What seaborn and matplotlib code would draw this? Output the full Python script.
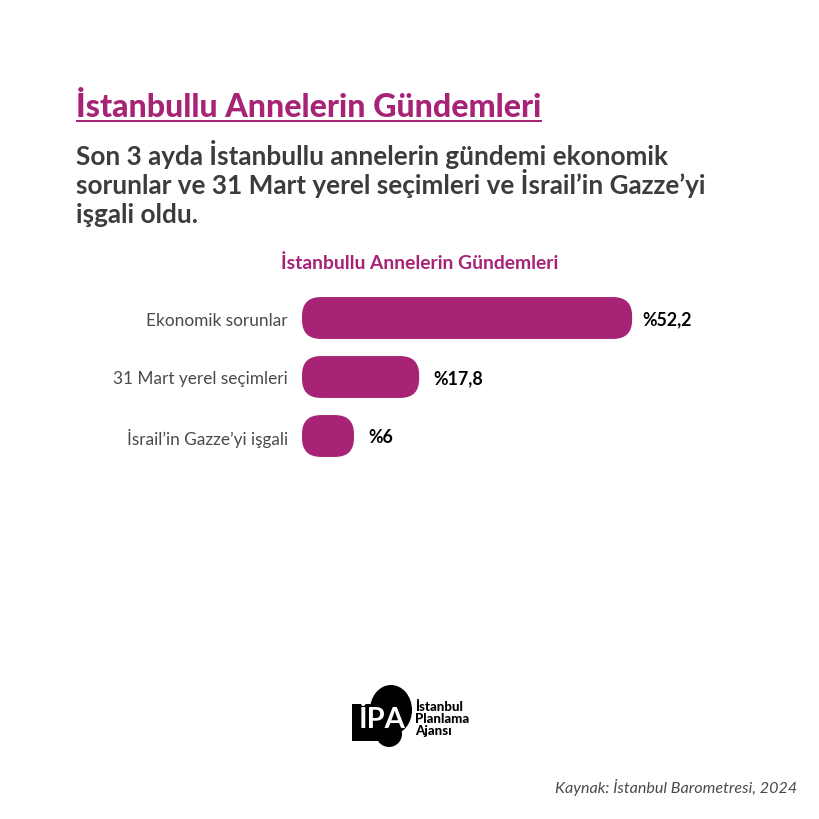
import matplotlib
matplotlib.use("Agg")
import matplotlib.pyplot as plt
import pandas as pd
import seaborn as sns
from matplotlib.patches import Ellipse, FancyBboxPatch, Rectangle

# -----------------------------
# Data
# -----------------------------
categories = ["Ekonomik sorunlar", "31 Mart yerel seçimleri", "İsrail’in Gazze’yi işgali"]
values = [52.2, 17.8, 6]
value_labels = ["%52,2", "%17,8", "%6"]

title = "İstanbullu Annelerin Gündemleri"
subtitle_lines = [
    "Son 3 ayda İstanbullu annelerin gündemi ekonomik",
    "sorunlar ve 31 Mart yerel seçimleri ve İsrail’in Gazze’yi",
    "işgali oldu.",
]
chart_title = "İstanbullu Annelerin Gündemleri"
source = "Kaynak: İstanbul Barometresi, 2024"
logo_lines = ["İstanbul", "Planlama", "Ajansı"]

PURPLE = "#A62376"
DARK = "#3C3C3C"
LABEL = "#4A4A4A"

# -----------------------------
# Figure
# -----------------------------
sns.set_theme(style="white")
plt.rcParams["font.family"] = ["Lato", "DejaVu Sans"]

fig = plt.figure(figsize=(8.2, 8.2), dpi=100, facecolor="white")

# full size overlay in pixel coords for the text around the chart
bg = fig.add_axes([0, 0, 1, 1])
bg.set_xlim(0, 820)
bg.set_ylim(820, 0)
bg.axis("off")

bg.text(76, 117, title, color=PURPLE, fontsize=23.15, fontweight="black", va="baseline", ha="left")
bg.add_patch(Rectangle((76, 120.5), 466, 2.6, color=PURPLE, lw=0))
for y, line in zip([165, 194, 223], subtitle_lines):
    bg.text(76, y, line, color=DARK, fontsize=18.8, fontweight="bold", va="baseline", ha="left")
bg.text(420, 269, chart_title, color=PURPLE, fontsize=13.85, fontweight="bold", va="baseline", ha="center")
bg.text(797, 788, source, color=LABEL, fontsize=11.6, style="italic", va="center", ha="right")

# logo
bg.add_patch(Ellipse((391, 711), 42, 50, color="black", lw=0))
bg.add_patch(Ellipse((389, 735), 26, 26, color="black", lw=0))
bg.add_patch(Rectangle((352, 705), 34, 37, color="black", lw=0))
bg.text(382, 720, "İPA", color="white", fontsize=21, fontweight="bold", va="center", ha="center")
for y, line in zip([707, 719, 731], logo_lines):
    bg.text(415, y, line, color="black", fontsize=9.5, fontweight="black", va="center", ha="left")

# -----------------------------
# Bars
# -----------------------------
PX_PER_UNIT = 6.19
AX_LEFT, AX_TOP, AX_W, AX_H = 302, 289.5, 495, 177
ax = fig.add_axes([AX_LEFT / 820, 1 - (AX_TOP + AX_H) / 820, AX_W / 820, AX_H / 820])
ax.patch.set_alpha(0)

df = pd.DataFrame({"category": categories, "value": values})
sns.barplot(data=df, x="value", y="category", color=PURPLE, width=0.71, saturation=1, ax=ax)

ax.set_xlim(0, AX_W / PX_PER_UNIT)
ax.set_ylim(2.5, -0.5)
ax.set_xlabel("")
ax.set_ylabel("")
ax.set_xticks([])
sns.despine(ax=ax, left=True, bottom=True)
ax.tick_params(axis="y", length=0, pad=10, labelsize=12.4, labelcolor=LABEL)
for tick in ax.get_yticklabels():
    tick.set_verticalalignment("center_baseline")

# swap the square bars for rounded ones on the same positions
EXTRA_PX = 7
MIN_PX = 52
RADIUS_PX = 19
units_per_px_y = 3 / AX_H
for bar, label in zip(list(ax.patches), value_labels):
    w = max(bar.get_width() + EXTRA_PX / PX_PER_UNIT, MIN_PX / PX_PER_UNIT)
    y0, h = bar.get_y(), bar.get_height()
    r = RADIUS_PX / PX_PER_UNIT
    aspect = units_per_px_y * PX_PER_UNIT
    ax.add_patch(FancyBboxPatch(
        (r, y0 + r * aspect), w - 2 * r, h - 2 * r * aspect,
        boxstyle=f"round,pad={r},rounding_size={r}",
        mutation_aspect=aspect, color=PURPLE, lw=0, clip_on=False,
    ))
    bar.set_visible(False)
    gap = 7.5 if bar.get_width() > 40 else 10
    ax.annotate(label, (w, y0 + h / 2), xytext=(gap, -0.5), textcoords="offset points",
                color="black", fontsize=12.8, fontweight="bold", va="center", ha="left")

fig.savefig("out.png", dpi=100, facecolor="white")
